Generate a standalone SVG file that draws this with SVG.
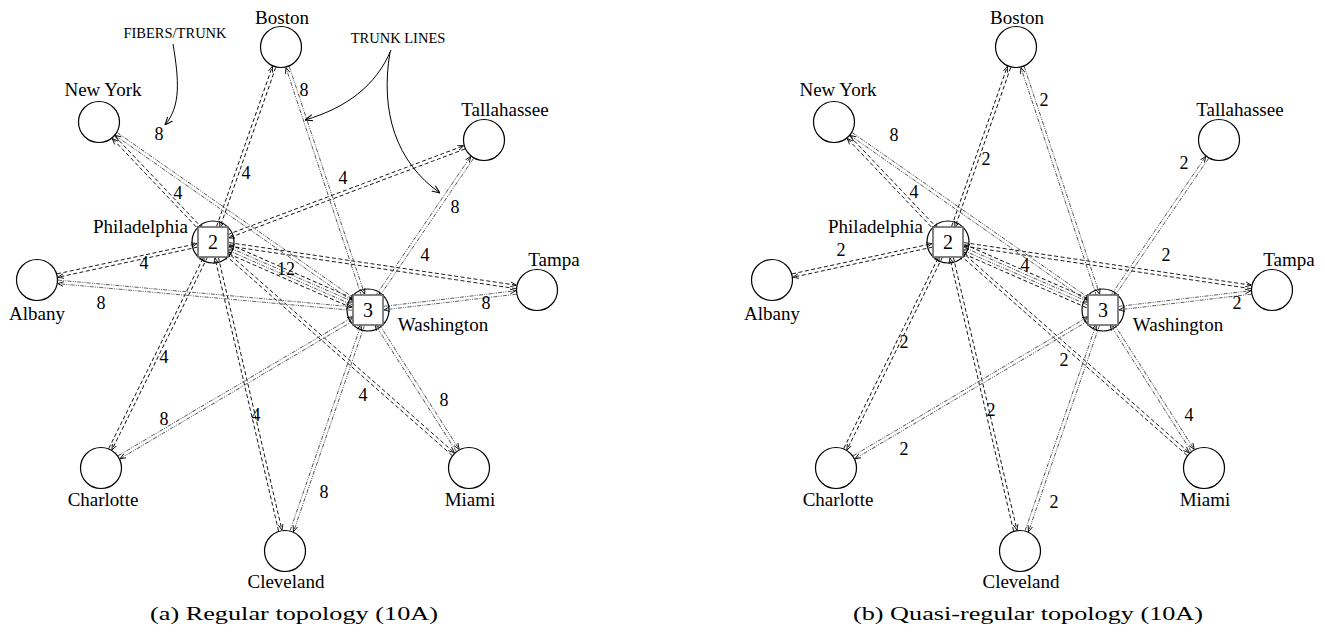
<svg xmlns="http://www.w3.org/2000/svg" width="1325" height="632" viewBox="0 0 1325 632">
<defs>
<marker id="ah" viewBox="0 0 10 10" refX="10" refY="5" markerWidth="6" markerHeight="6" markerUnits="userSpaceOnUse" orient="auto">
<path d="M0,1 L10,5 L0,9" fill="none" stroke="#000" stroke-width="1.4"/>
</marker>
<marker id="ann" viewBox="0 0 10 10" refX="10" refY="5" markerWidth="8" markerHeight="8" markerUnits="userSpaceOnUse" orient="auto">
<path d="M0,1 L10,5 L0,9" fill="none" stroke="#000" stroke-width="1.3"/>
</marker>
<style>
.n{fill:none;stroke:#000;stroke-width:1.2}
.sq{fill:#fff;stroke:#666;stroke-width:1.6}
.lbl{font-family:"Liberation Serif","Times New Roman",serif;font-size:19px;fill:#000}
.c{text-anchor:middle}
.el{font-family:"Liberation Serif","Times New Roman",serif;font-size:18px;fill:#000;text-anchor:middle}
.hn{font-family:"Liberation Serif","Times New Roman",serif;font-size:20px;fill:#000;text-anchor:middle}
.an{font-family:"Liberation Serif","Times New Roman",serif;font-size:14.5px;fill:#000;text-anchor:middle}
.cap{font-family:"Liberation Serif","Times New Roman",serif;font-size:19px;fill:#000}
.d{fill:none;stroke:#111;stroke-width:0.9;stroke-dasharray:4 2.5;marker-end:url(#ah)}
.dd{fill:none;stroke:#555;stroke-width:0.9;stroke-dasharray:4 1.2 1 1.2 1 1.2;marker-end:url(#ah)}
.ac{fill:none;stroke:#000;stroke-width:1;marker-end:url(#ann)}
</style>
</defs>
<rect width="1325" height="632" fill="#fff"/>

<!-- ===== Diagram (a) ===== -->
<g id="diagram-a">
<g id="a-hub-circles">
<circle class="n" cx="213" cy="242" r="21"/>
<circle class="n" cx="368" cy="310" r="21"/>
</g>
<g id="a-connectors">
<g transform="translate(213,242) rotate(-133.53)"><line class="d" x1="16" y1="-1.75" x2="144.5" y2="-1.75"/><line class="d" x1="144.5" y1="1.75" x2="16" y2="1.75"/></g>
<g transform="translate(213,242) rotate(-70.78)"><line class="d" x1="16" y1="-1.75" x2="185.5" y2="-1.75"/><line class="d" x1="185.5" y1="1.75" x2="16" y2="1.75"/></g>
<g transform="translate(213,242) rotate(167.82)"><line class="d" x1="16" y1="-1.75" x2="159.1" y2="-1.75"/><line class="d" x1="159.1" y1="1.75" x2="16" y2="1.75"/></g>
<g transform="translate(213,242) rotate(23.69)"><line class="d" x1="16" y1="-4.5" x2="153.3" y2="-4.5"/><line class="dd" x1="16" y1="-1.5" x2="153.3" y2="-1.5"/><line class="dd" x1="153.3" y1="1.5" x2="16" y2="1.5"/><line class="d" x1="153.3" y1="4.5" x2="16" y2="4.5"/></g>
<g transform="translate(213,242) rotate(-20.63)"><line class="d" x1="16" y1="-1.75" x2="268.6" y2="-1.75"/><line class="d" x1="268.6" y1="1.75" x2="16" y2="1.75"/></g>
<g transform="translate(213,242) rotate(8.43)"><line class="d" x1="16" y1="-1.75" x2="306.5" y2="-1.75"/><line class="d" x1="306.5" y1="1.75" x2="16" y2="1.75"/></g>
<g transform="translate(213,242) rotate(116.36)"><line class="d" x1="16" y1="-1.75" x2="231.2" y2="-1.75"/><line class="d" x1="231.2" y1="1.75" x2="16" y2="1.75"/></g>
<g transform="translate(213,242) rotate(76.88)"><line class="d" x1="16" y1="-1.75" x2="296.3" y2="-1.75"/><line class="d" x1="296.3" y1="1.75" x2="16" y2="1.75"/></g>
<g transform="translate(213,242) rotate(41.44)"><line class="d" x1="16" y1="-1.75" x2="320.5" y2="-1.75"/><line class="d" x1="320.5" y1="1.75" x2="16" y2="1.75"/></g>
<g transform="translate(368,310) rotate(-145.05)"><line class="dd" x1="16" y1="-1.75" x2="307.2" y2="-1.75"/><line class="dd" x1="307.2" y1="1.75" x2="16" y2="1.75"/></g>
<g transform="translate(368,310) rotate(-108.31)"><line class="dd" x1="16" y1="-1.75" x2="256" y2="-1.75"/><line class="dd" x1="256" y1="1.75" x2="16" y2="1.75"/></g>
<g transform="translate(368,310) rotate(-174.82)"><line class="dd" x1="16" y1="-1.75" x2="311.4" y2="-1.75"/><line class="dd" x1="311.4" y1="1.75" x2="16" y2="1.75"/></g>
<g transform="translate(368,310) rotate(-55.69)"><line class="dd" x1="16" y1="-1.75" x2="184.8" y2="-1.75"/><line class="dd" x1="184.8" y1="1.75" x2="16" y2="1.75"/></g>
<g transform="translate(368,310) rotate(-6.75)"><line class="dd" x1="16" y1="-1.75" x2="149.2" y2="-1.75"/><line class="dd" x1="149.2" y1="1.75" x2="16" y2="1.75"/></g>
<g transform="translate(368,310) rotate(149.39)"><line class="dd" x1="16" y1="-1.75" x2="289.2" y2="-1.75"/><line class="dd" x1="289.2" y1="1.75" x2="16" y2="1.75"/></g>
<g transform="translate(368,310) rotate(109.01)"><line class="dd" x1="16" y1="-1.75" x2="233.9" y2="-1.75"/><line class="dd" x1="233.9" y1="1.75" x2="16" y2="1.75"/></g>
<g transform="translate(368,310) rotate(57.41)"><line class="dd" x1="16" y1="-1.75" x2="166.5" y2="-1.75"/><line class="dd" x1="166.5" y1="1.75" x2="16" y2="1.75"/></g>
</g>
<g id="a-edge-labels">
<text class="el" x="159" y="140">8</text>
<text class="el" x="178" y="199">4</text>
<text class="el" x="246" y="179">4</text>
<text class="el" x="304" y="96">8</text>
<text class="el" x="144" y="269">4</text>
<text class="el" x="101" y="309">8</text>
<text class="el" x="286" y="275">12</text>
<text class="el" x="343" y="184">4</text>
<text class="el" x="455" y="213">8</text>
<text class="el" x="425" y="261">4</text>
<text class="el" x="486" y="309">8</text>
<text class="el" x="164" y="363">4</text>
<text class="el" x="164" y="425">8</text>
<text class="el" x="256" y="421">4</text>
<text class="el" x="324" y="498">8</text>
<text class="el" x="363" y="401">4</text>
<text class="el" x="444" y="406">8</text>
</g>
<g id="a-boston"><circle class="n" cx="281" cy="47" r="20.5"/><text class="lbl c" x="282" y="24">Boston</text></g>
<g id="a-newyork"><circle class="n" cx="99" cy="122" r="20.5"/><text class="lbl c" x="103" y="96">New York</text></g>
<g id="a-philadelphia"><rect class="sq" x="198" y="227" width="30" height="30"/><text class="hn" x="213" y="249">2</text><text class="lbl" x="188" y="233" text-anchor="end">Philadelphia</text></g>
<g id="a-albany"><circle class="n" cx="37" cy="280" r="20.5"/><text class="lbl c" x="37" y="320">Albany</text></g>
<g id="a-tallahassee"><circle class="n" cx="484" cy="140" r="20.5"/><text class="lbl c" x="505" y="116">Tallahassee</text></g>
<g id="a-tampa"><circle class="n" cx="537" cy="290" r="20.5"/><text class="lbl c" x="554" y="266">Tampa</text></g>
<g id="a-washington"><rect class="sq" x="353" y="295" width="30" height="30"/><text class="hn" x="368" y="317">3</text><text class="lbl c" x="443" y="331">Washington</text></g>
<g id="a-charlotte"><circle class="n" cx="101" cy="468" r="20.5"/><text class="lbl c" x="103" y="506">Charlotte</text></g>
<g id="a-cleveland"><circle class="n" cx="285" cy="551" r="20.5"/><text class="lbl c" x="286" y="588">Cleveland</text></g>
<g id="a-miami"><circle class="n" cx="469" cy="468" r="20.5"/><text class="lbl c" x="470" y="506">Miami</text></g>
<g id="a-annotations">
<text class="an" x="175" y="38">FIBERS/TRUNK</text>
<path class="ac" d="M173,44 C179,80 181,106 165,125"/>
<text class="an" x="398" y="43">TRUNK LINES</text>
<path class="ac" d="M391,50 C376,86 346,108 305,120"/>
<path class="ac" d="M390,52 C380,112 396,162 440,193"/>
</g>
<text class="cap" x="150" y="620" textLength="288" lengthAdjust="spacingAndGlyphs">(a)  Regular topology (10A)</text>
</g>

<!-- ===== Diagram (b) ===== -->
<g id="diagram-b">
<g transform="translate(735,0)">
<g id="b-hub-circles">
<circle class="n" cx="213" cy="242" r="21"/>
<circle class="n" cx="368" cy="310" r="21"/>
</g>
<g id="b-connectors">
<g transform="translate(213,242) rotate(-133.53)"><line class="d" x1="16" y1="-1.75" x2="144.5" y2="-1.75"/><line class="d" x1="144.5" y1="1.75" x2="16" y2="1.75"/></g>
<g transform="translate(213,242) rotate(-70.78)"><line class="d" x1="16" y1="-1.75" x2="185.5" y2="-1.75"/><line class="d" x1="185.5" y1="1.75" x2="16" y2="1.75"/></g>
<g transform="translate(213,242) rotate(167.82)"><line class="d" x1="16" y1="-1.75" x2="159.1" y2="-1.75"/><line class="d" x1="159.1" y1="1.75" x2="16" y2="1.75"/></g>
<g transform="translate(213,242) rotate(23.69)"><line class="d" x1="16" y1="-4.5" x2="153.3" y2="-4.5"/><line class="dd" x1="16" y1="-1.5" x2="153.3" y2="-1.5"/><line class="dd" x1="153.3" y1="1.5" x2="16" y2="1.5"/><line class="d" x1="153.3" y1="4.5" x2="16" y2="4.5"/></g>
<g transform="translate(213,242) rotate(8.43)"><line class="d" x1="16" y1="-1.75" x2="306.5" y2="-1.75"/><line class="d" x1="306.5" y1="1.75" x2="16" y2="1.75"/></g>
<g transform="translate(213,242) rotate(116.36)"><line class="d" x1="16" y1="-1.75" x2="231.2" y2="-1.75"/><line class="d" x1="231.2" y1="1.75" x2="16" y2="1.75"/></g>
<g transform="translate(213,242) rotate(76.88)"><line class="d" x1="16" y1="-1.75" x2="296.3" y2="-1.75"/><line class="d" x1="296.3" y1="1.75" x2="16" y2="1.75"/></g>
<g transform="translate(213,242) rotate(41.44)"><line class="d" x1="16" y1="-1.75" x2="320.5" y2="-1.75"/><line class="d" x1="320.5" y1="1.75" x2="16" y2="1.75"/></g>
<g transform="translate(368,310) rotate(-145.05)"><line class="dd" x1="16" y1="-1.75" x2="307.2" y2="-1.75"/><line class="dd" x1="307.2" y1="1.75" x2="16" y2="1.75"/></g>
<g transform="translate(368,310) rotate(-108.31)"><line class="dd" x1="16" y1="-1.75" x2="256" y2="-1.75"/><line class="dd" x1="256" y1="1.75" x2="16" y2="1.75"/></g>
<g transform="translate(368,310) rotate(-55.69)"><line class="dd" x1="16" y1="-1.75" x2="184.8" y2="-1.75"/><line class="dd" x1="184.8" y1="1.75" x2="16" y2="1.75"/></g>
<g transform="translate(368,310) rotate(-6.75)"><line class="dd" x1="16" y1="-1.75" x2="149.2" y2="-1.75"/><line class="dd" x1="149.2" y1="1.75" x2="16" y2="1.75"/></g>
<g transform="translate(368,310) rotate(149.39)"><line class="dd" x1="16" y1="-1.75" x2="289.2" y2="-1.75"/><line class="dd" x1="289.2" y1="1.75" x2="16" y2="1.75"/></g>
<g transform="translate(368,310) rotate(109.01)"><line class="dd" x1="16" y1="-1.75" x2="233.9" y2="-1.75"/><line class="dd" x1="233.9" y1="1.75" x2="16" y2="1.75"/></g>
<g transform="translate(368,310) rotate(57.41)"><line class="dd" x1="16" y1="-1.75" x2="166.5" y2="-1.75"/><line class="dd" x1="166.5" y1="1.75" x2="16" y2="1.75"/></g>
</g>
<g id="b-edge-labels">
<text class="el" x="159" y="141">8</text>
<text class="el" x="179" y="198">4</text>
<text class="el" x="251" y="165">2</text>
<text class="el" x="106" y="256">2</text>
<text class="el" x="290" y="271">4</text>
<text class="el" x="309" y="106">2</text>
<text class="el" x="449" y="169">2</text>
<text class="el" x="431" y="261">2</text>
<text class="el" x="502" y="309">2</text>
<text class="el" x="169" y="348">2</text>
<text class="el" x="169" y="455">2</text>
<text class="el" x="256" y="416">2</text>
<text class="el" x="319" y="508">2</text>
<text class="el" x="329" y="366">2</text>
<text class="el" x="454" y="421">4</text>
</g>
<g id="b-boston"><circle class="n" cx="281" cy="47" r="20.5"/><text class="lbl c" x="282" y="24">Boston</text></g>
<g id="b-newyork"><circle class="n" cx="99" cy="122" r="20.5"/><text class="lbl c" x="103" y="96">New York</text></g>
<g id="b-philadelphia"><rect class="sq" x="198" y="227" width="30" height="30"/><text class="hn" x="213" y="249">2</text><text class="lbl" x="188" y="233" text-anchor="end">Philadelphia</text></g>
<g id="b-albany"><circle class="n" cx="37" cy="280" r="20.5"/><text class="lbl c" x="37" y="320">Albany</text></g>
<g id="b-tallahassee"><circle class="n" cx="484" cy="140" r="20.5"/><text class="lbl c" x="505" y="116">Tallahassee</text></g>
<g id="b-tampa"><circle class="n" cx="537" cy="290" r="20.5"/><text class="lbl c" x="554" y="266">Tampa</text></g>
<g id="b-washington"><rect class="sq" x="353" y="295" width="30" height="30"/><text class="hn" x="368" y="317">3</text><text class="lbl c" x="443" y="331">Washington</text></g>
<g id="b-charlotte"><circle class="n" cx="101" cy="468" r="20.5"/><text class="lbl c" x="103" y="506">Charlotte</text></g>
<g id="b-cleveland"><circle class="n" cx="285" cy="551" r="20.5"/><text class="lbl c" x="286" y="588">Cleveland</text></g>
<g id="b-miami"><circle class="n" cx="469" cy="468" r="20.5"/><text class="lbl c" x="470" y="506">Miami</text></g>
</g>
<text class="cap" x="853" y="620" textLength="350" lengthAdjust="spacingAndGlyphs">(b)  Quasi-regular topology (10A)</text>
</g>
</svg>
